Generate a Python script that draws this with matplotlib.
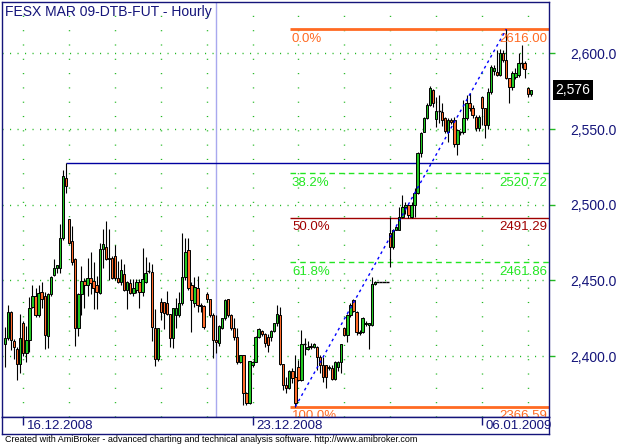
import matplotlib.pyplot as plt
import matplotlib.transforms as mtransforms

plt.rcParams['font.family'] = ['Liberation Sans', 'DejaVu Sans']
plt.rcParams['lines.scale_dashes'] = False

# hourly bars, FESX MAR 09
opens = [2408, 2412, 2429, 2410, 2404.5, 2395, 2421.7, 2402, 2410.6, 2432.7,
         2439.7, 2427, 2442.5, 2440, 2413, 2441, 2453.6, 2458, 2458.4, 2478,
         2517.5, 2490.4, 2476, 2464, 2418.4, 2441, 2449.6, 2447, 2451.4, 2449.6,
         2447, 2441.5, 2470.6, 2472, 2465, 2465, 2466.3, 2451.4, 2449.2, 2454,
         2444, 2448.5, 2441.5, 2444, 2449, 2442.5, 2449.2, 2456.4, 2455.7, 2418.4,
         2397.9, 2435.5, 2435.5, 2435, 2427.6, 2411.8, 2427, 2427, 2435, 2452.5,
         2470, 2447, 2435.3, 2445, 2434, 2433, 2440.8, 2437.5, 2427.2, 2410.6,
         2408.5, 2418.4, 2425, 2437.5, 2427.2, 2418.4, 2412.8, 2395.9, 2400.7, 2375.4,
         2368.8, 2394.1, 2396.3, 2412.4, 2416.6, 2414.4, 2412.8, 2412.8, 2416.6, 2421.7,
         2427.2, 2394.8, 2380.9, 2378.7, 2390.3, 2386.4, 2392.6, 2384.2, 2407.8, 2404.5,
         2406.7, 2406.2, 2406, 2399.6, 2394, 2394, 2391.9, 2391.9, 2384.6, 2393,
         2396.3, 2418.4, 2414, 2427.2, 2437, 2429.3, 2416.1, 2416.1, 2421, 2420.5,
         2420.5, 2447.6, 2449.2, 2449.2, 2449.2, 2449.2, 2481.1, 2472.3, 2483.3, 2483.3,
         2492.1, 2498.3, 2500, 2492.1, 2500, 2507.5, 2534, 2548.2, 2557.1, 2566,
         2575.8, 2556.4, 2561.9, 2561.4, 2557.1, 2548.2, 2556, 2556, 2540.1, 2548.2,
         2548.2, 2557, 2567, 2564, 2558, 2550.5, 2571.3, 2563.7, 2552.6, 2574.6,
         2588, 2587.8, 2585.7, 2600.4, 2595.6, 2583.5, 2577.5, 2584.5, 2585.7, 2593.4,
         2593.4, 2577.3, 2573.1]
highs = [2419, 2434, 2430, 2411, 2406, 2428, 2423, 2419.6, 2439.3, 2447,
         2445, 2447, 2449, 2442.5, 2442, 2453, 2464, 2460, 2487, 2523,
         2527.3, 2490.4, 2486, 2464.5, 2441.5, 2459.5, 2451.5, 2465, 2469, 2462,
         2453, 2475, 2484, 2489, 2484, 2466, 2473.4, 2463, 2464, 2461,
         2449.5, 2451, 2451, 2451, 2451, 2471.2, 2465.7, 2462, 2461, 2431,
         2418.4, 2438.2, 2436, 2443.2, 2428, 2432, 2438.2, 2442.5, 2481, 2477.8,
         2478, 2449, 2452.5, 2452.9, 2435, 2434, 2442.5, 2438, 2428.3, 2427,
         2420.5, 2425.5, 2438, 2438, 2427.5, 2425, 2418.4, 2401, 2401, 2376,
         2397, 2397, 2413, 2418.5, 2417, 2415, 2414.4, 2417.5, 2422, 2433.6,
         2432.6, 2395, 2386.4, 2391, 2391.9, 2400.7, 2397.4, 2417, 2411.8, 2410,
         2408.5, 2408.5, 2407, 2401, 2399.6, 2394, 2394, 2394.1, 2397, 2397,
         2408, 2419, 2428, 2435, 2438, 2430, 2417, 2426, 2423, 2422,
         2452.5, 2449.5, 2449.2, 2449.2, 2449.2, 2449.2, 2492, 2484, 2486, 2498.3,
         2506.4, 2502, 2500.5, 2502, 2510.8, 2535, 2548.2, 2558.1, 2567.5, 2578.4,
         2576.5, 2571.3, 2572.5, 2567, 2558, 2557, 2557, 2558.1, 2550, 2549,
         2569, 2572.5, 2574, 2566, 2559, 2559, 2572, 2564, 2577, 2592,
         2592, 2602, 2603, 2602, 2616, 2584, 2588, 2590, 2600, 2605.5,
         2595, 2577.5, 2575.8]
lows = [2393, 2410.6, 2404, 2398, 2384, 2389, 2400, 2396.3, 2403, 2431.6,
        2426, 2426, 2432, 2405, 2405.5, 2440, 2453, 2455, 2455, 2477,
        2507.5, 2474, 2460.5, 2407, 2413, 2427, 2432, 2440, 2441, 2431,
        2431, 2441, 2458, 2463.5, 2450, 2451, 2450, 2448, 2447, 2443,
        2431, 2441, 2440, 2442, 2431.6, 2440, 2448, 2454.7, 2410, 2393.5,
        2397, 2423.8, 2418, 2427, 2406.2, 2405.2, 2418.4, 2426, 2434, 2450,
        2444, 2416, 2432.6, 2429.3, 2429, 2418, 2436, 2426, 2398.5, 2402,
        2407, 2418, 2424, 2426, 2417, 2410.6, 2394.8, 2395.5, 2368, 2367.5,
        2368.5, 2393, 2396, 2412, 2413, 2406, 2403, 2410, 2416, 2420,
        2394.1, 2377.6, 2375.4, 2378, 2382, 2366.59, 2383.5, 2383.5, 2401, 2404,
        2405, 2405.5, 2391, 2389, 2383, 2379, 2391, 2384, 2384, 2390,
        2388.6, 2413, 2409.5, 2426, 2429, 2414, 2414, 2415, 2420, 2405,
        2420, 2447, 2449.2, 2449.2, 2449.2, 2449.2, 2459.1, 2471, 2483, 2483,
        2491, 2494, 2491, 2491, 2492, 2507, 2531.3, 2548, 2556.5, 2565,
        2564.6, 2551.5, 2553.8, 2552, 2547.7, 2541.6, 2553, 2538, 2532.8, 2546,
        2547, 2556, 2562, 2557, 2549, 2549, 2552.6, 2544.3, 2550, 2573,
        2586, 2585, 2585, 2594, 2583, 2567.4, 2576, 2583, 2584.5, 2590,
        2583.5, 2571, 2572]
closes = [2412, 2429, 2410.6, 2406, 2395, 2412, 2402, 2410.6, 2431.6, 2439.7,
          2427, 2441.5, 2437.5, 2414, 2441, 2452.5, 2458, 2460, 2478, 2519,
          2512.4, 2474.5, 2462.4, 2418.4, 2441, 2449.6, 2447, 2451.4, 2448.5, 2445,
          2442.5, 2470.6, 2474, 2464, 2464, 2451.4, 2451.4, 2449.2, 2456.9, 2444,
          2449, 2442, 2445.2, 2449.2, 2442.5, 2450.7, 2454.7, 2456.4, 2419.4, 2397.9,
          2418.4, 2429.3, 2428.3, 2427.6, 2411.8, 2431.6, 2431.6, 2435, 2452.5, 2469,
          2445, 2437, 2445.5, 2434, 2433, 2419.4, 2437.5, 2427.2, 2410.6, 2409.5,
          2419.9, 2425, 2437, 2427.2, 2418.4, 2412.4, 2395.9, 2400.7, 2375.4, 2368.8,
          2396.8, 2396.3, 2412.4, 2417.7, 2414.4, 2408.5, 2407.3, 2416.6, 2421.7, 2427.8,
          2394.8, 2380.9, 2378.7, 2390.3, 2385.3, 2368.8, 2384.2, 2407.8, 2407.8, 2406.2,
          2405.8, 2407.8, 2399.6, 2394, 2386.4, 2386.4, 2393, 2384.6, 2396.3, 2396.3,
          2407.8, 2414, 2427.2, 2433.8, 2430, 2416.1, 2415, 2425, 2421.7, 2421.7,
          2447.6, 2449.2, 2449.2, 2449.2, 2449.2, 2449.2, 2472.3, 2483.3, 2485.5, 2492.1,
          2498.3, 2499.5, 2493, 2500, 2507.5, 2534, 2547.2, 2557.1, 2566, 2577,
          2567.4, 2562.1, 2561.9, 2556, 2548.5, 2556, 2554.8, 2540.1, 2549.3, 2548.2,
          2557, 2567, 2564, 2559.2, 2550.5, 2558, 2563.7, 2552.6, 2574.6, 2590.8,
          2590, 2585.7, 2600.5, 2595.6, 2583.5, 2577.5, 2586.8, 2587, 2593.4, 2593.4,
          2589.4, 2573.1, 2575.8]

fib_names = ['0.0%', '38.2%', '50.0%', '61.8%', '100.0%']
fib_levels = [2616.00, 2520.72, 2491.29, 2461.86, 2366.59]
fib_colors = ['#ff6a22', '#22e622', '#a00000', '#22e622', '#ff6a22']
fib_styles = ['-', (0, (4, 3)), '-', (0, (4, 3)), '-']
fib_widths = [2, 1, 1, 1, 2]

price_ticks = [2400, 2450, 2500, 2550, 2600]
date_labels = ['16.12.2008', '23.12.2008', '06.01.2009']
date_bars = [6, 81, 156]
day_bars = [6 + 15 * k for k in range(12)]
cursor_bar = 69

navy = '#14147a'
grid_green = '#22b822'
up_col = '#22c822'
dn_col = '#ff6a2a'

W, H = 618, 446
fig = plt.figure(figsize=(W / 100, H / 100), dpi=100)
ax = fig.add_axes([2 / W, 29 / H, 547 / W, 415 / H])
ax.set_xlim(-0.97, 177.97)
ax.set_ylim(2359.8, 2633.9)

# grid
for y in price_ticks:
    ax.axhline(y, color=grid_green, lw=1, ls=(0, (0.8, 4.6)), zorder=1)
for d in day_bars:
    ax.axvline(d, color=grid_green, lw=1, ls=(0, (0.8, 9.5)), zorder=1)
ax.axvline(cursor_bar, color='#a8a8ee', lw=1, zorder=1)

# candles
n = len(closes)
idx = list(range(n))
ax.vlines(idx, lows, highs, color='black', lw=0.8, zorder=3)
bx, bh, bb, bc = [], [], [], []
for i in idx:
    o, c = opens[i], closes[i]
    if abs(c - o) < 0.05:
        ax.hlines(o, i - 0.5, i + 0.5, color='black', lw=1, zorder=4)
    else:
        bx.append(i)
        bh.append(abs(c - o))
        bb.append(min(o, c))
        bc.append(up_col if c > o else dn_col)
ax.bar(bx, bh, bottom=bb, width=0.78, color=bc, edgecolor='black', lw=0.7, zorder=4)

# horizontal line at the first swing high
first_high = highs.index(max(highs[:40]))
ax.hlines(highs[first_high], first_high, 178, color='#0000a0', lw=1, zorder=2)

# fibonacci retracement
lo_bar = lows.index(min(lows))
hi_bar = highs.index(max(highs))
fib_x0 = lo_bar - 1.8
for name, lev, col, st, lw in zip(fib_names, fib_levels, fib_colors, fib_styles, fib_widths):
    ax.hlines(lev, fib_x0, 178, color=col, lw=lw, ls=st, zorder=2)
    ax.annotate(name, (fib_x0, lev), xytext=(1.5, -2.5), textcoords='offset points',
                ha='left', va='top', color=col, fontsize=9.5, annotation_clip=False, clip_on=True)
    ax.annotate('%.2f' % lev, (1, lev), xycoords=('axes fraction', 'data'),
                xytext=(-1, -2.5), textcoords='offset points',
                ha='right', va='top', color=col, fontsize=9.5, clip_on=True)
ax.plot([lo_bar, hi_bar], [min(lows), max(highs)], color='#0000ff', lw=1,
        ls=(0, (2, 2.5)), zorder=5)

# axes styling
for s in ax.spines.values():
    s.set_color(navy)
    s.set_linewidth(1)
ax.set_xticks([])
ax.yaxis.tick_right()
ax.set_yticks(price_ticks)
ax.set_yticklabels(['{:,.1f}'.format(v) for v in price_ticks])
ax.tick_params(axis='y', colors=grid_green, length=4, width=1, pad=11,
               labelcolor=navy, labelsize=10)

# last price box
trans = mtransforms.blended_transform_factory(ax.transAxes, ax.transData)
ax.text(1.012, closes[-1], '{:,.0f}'.format(closes[-1]), transform=trans,
        ha='left', va='center', color='white', fontsize=10,
        bbox=dict(facecolor='black', edgecolor='none', pad=2.2))

ax.text(0.006, 0.992, 'FESX MAR 09-DTB-FUT - Hourly', transform=ax.transAxes,
        ha='left', va='top', color=navy, fontsize=10)

# date strip
dax = fig.add_axes([2 / W, 12 / H, 547 / W, 17 / H])
dax.set_xlim(ax.get_xlim())
dax.set_ylim(0, 1)
dax.set_xticks([])
dax.set_yticks([])
for s in dax.spines.values():
    s.set_color(navy)
    s.set_linewidth(1)
for lab, b in zip(date_labels, date_bars):
    dax.vlines(b, 0.55, 1, color=navy, lw=1)
    dax.text(b + 1.3, 0.45, lab, ha='left', va='center', color=navy, fontsize=9.5,
             clip_on=False)

fig.text(5 / W, 6 / H, 'Created with AmiBroker - advanced charting and technical analysis '
         'software. http://www.amibroker.com', ha='left', va='center',
         color='black', fontsize=6.5)

fig.savefig('out.png', dpi=100)
